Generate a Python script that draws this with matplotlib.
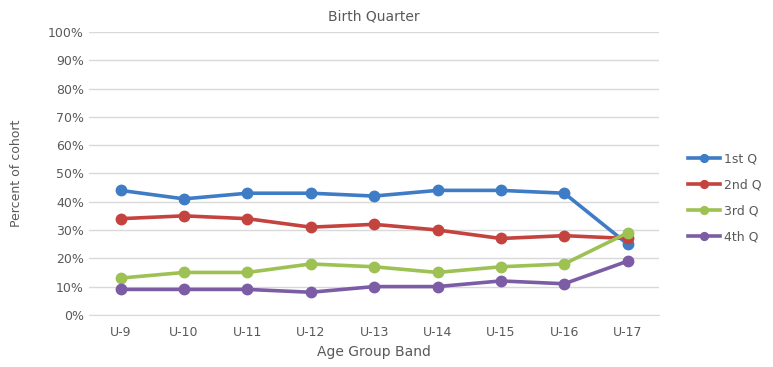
import numpy as np
import matplotlib.pyplot as plt
from matplotlib.ticker import PercentFormatter

groups = ['U-9', 'U-10', 'U-11', 'U-12', 'U-13', 'U-14', 'U-15', 'U-16', 'U-17']
q1 = [44, 41, 43, 43, 42, 44, 44, 43, 25]
q2 = [34, 35, 34, 31, 32, 30, 27, 28, 27]
q3 = [13, 15, 15, 18, 17, 15, 17, 18, 29]
q4 = [9, 9, 9, 8, 10, 10, 12, 11, 19]
names = ['1st Q', '2nd Q', '3rd Q', '4th Q']
colors = ['#3f7cc6', '#c4433f', '#9dc153', '#7d5ca6']

fig = plt.figure(figsize=(7.73, 3.67), dpi=100)
ax = fig.add_axes([0.115, 0.142, 0.738, 0.771])

x = np.arange(len(groups))
for vals, name, col in zip([q1, q2, q3, q4], names, colors):
    ax.plot(x, vals, color=col, lw=2.6, marker='o', ms=7.5, label=name)

ax.set_xlim(-0.5, len(groups) - 0.5)
ax.set_ylim(0, 100)
ax.set_yticks(np.arange(0, 101, 10))
ax.yaxis.set_major_formatter(PercentFormatter(decimals=0))
ax.set_xticks(x)
ax.set_xticklabels(groups)
ax.grid(axis='y', color='#d9d9d9', lw=1)
ax.set_axisbelow(True)
for s in ['top', 'right', 'left']:
    ax.spines[s].set_visible(False)
ax.spines['bottom'].set_color('#d9d9d9')
ax.tick_params(length=0, colors='#595959', labelsize=9)
ax.tick_params(axis='x', pad=8)

ax.set_title('Birth Quarter', color='#595959', fontsize=10, pad=8)
ax.set_xlabel('Age Group Band', color='#595959', fontsize=10, labelpad=4)
ax.set_ylabel('Percent of cohort', color='#595959', fontsize=9, labelpad=18)

ax.legend(loc='center left', bbox_to_anchor=(1.03, 0.414), frameon=False,
          fontsize=9, labelcolor='#595959', handlelength=2.6, labelspacing=1.05,
          handletextpad=0.3, markerscale=0.75)

fig.savefig('out.png', dpi=100)
